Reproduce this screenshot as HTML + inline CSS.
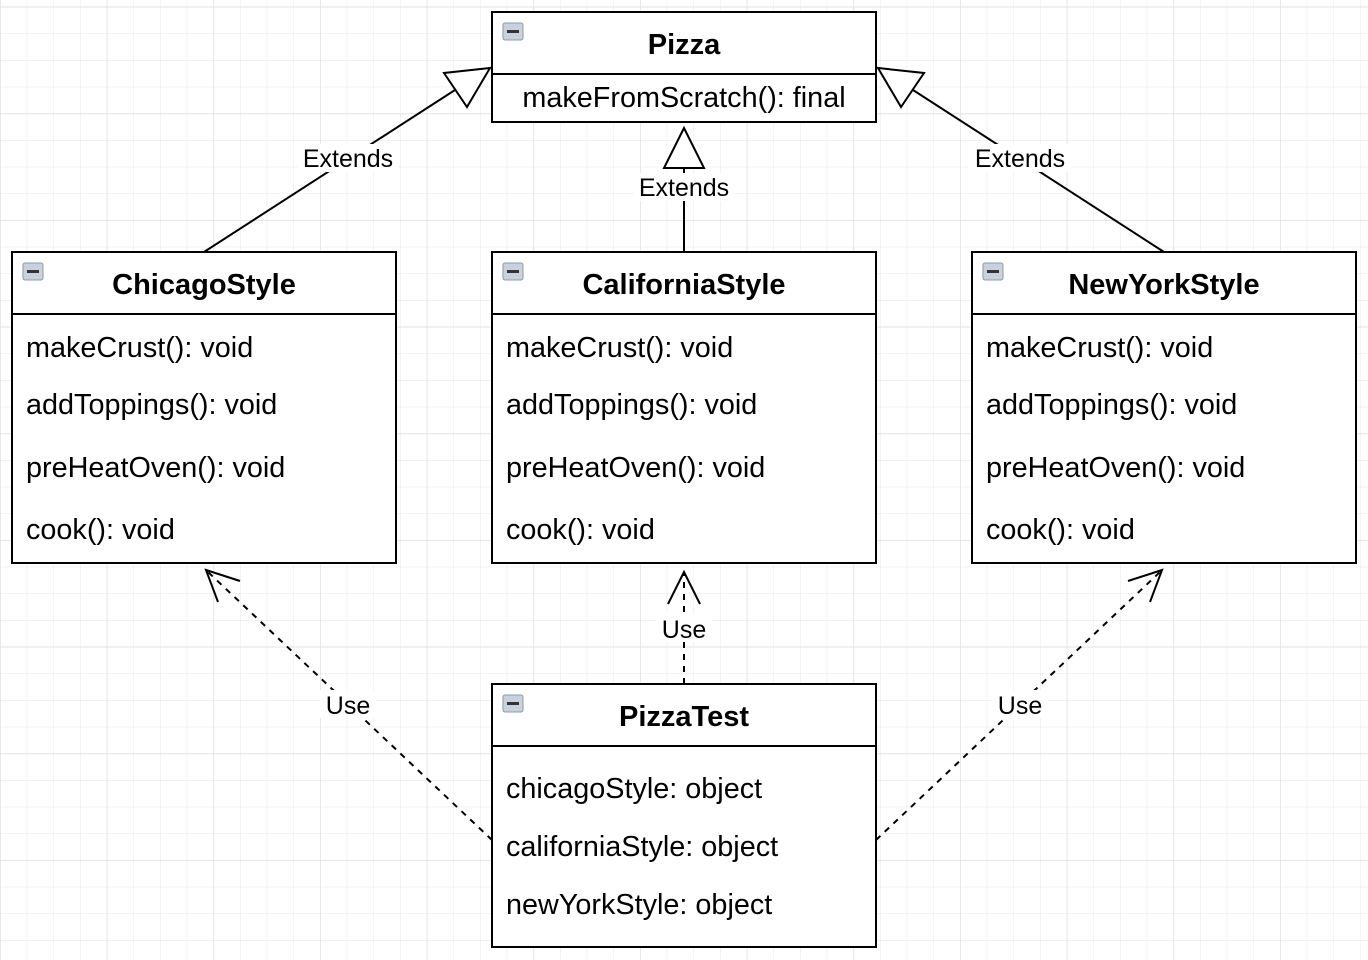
<!DOCTYPE html>
<html><head><meta charset="utf-8"><style>
html,body{margin:0;padding:0;background:#fff;}
svg{display:block;font-family:"Liberation Sans",Arial,sans-serif;}
</style></head><body>
<svg width="1368" height="960" viewBox="0 0 1368 960" xmlns="http://www.w3.org/2000/svg">
<defs>
<pattern id="g" x="0" y="6.67" width="26.667" height="26.667" patternUnits="userSpaceOnUse">
<path d="M0 0H26.667M0 0V26.667" stroke="#ebebeb" stroke-width="1.2" fill="none"/>
</pattern>
<pattern id="G" x="0" y="6.67" width="106.667" height="106.667" patternUnits="userSpaceOnUse">
<path d="M0 0H106.667M0 0V106.667" stroke="#e0e0e0" stroke-width="1.4" fill="none"/>
</pattern>
<g id="ic"><rect x="0" y="0" width="20" height="17" rx="2" fill="#c9d2dc" stroke="#8a99a8" stroke-width="1"/><rect x="4" y="7" width="12" height="3" fill="#333"/></g>
</defs>
<rect width="1368" height="960" fill="url(#g)"/>
<rect width="1368" height="960" fill="url(#G)"/>

<g stroke="#000" stroke-width="2" fill="none">
<line x1="204" y1="252" x2="455" y2="90"/>
<polygon points="490,68 444,73 467,107" fill="#fff"/>
<line x1="1164" y1="252" x2="913" y2="90"/>
<polygon points="878,68 924,73 901,107" fill="#fff"/>
<line x1="684" y1="252" x2="684" y2="168"/>
<polygon points="684,128 664,168 704,168" fill="#fff"/>
<g stroke-dasharray="6,6">
<line x1="492" y1="840" x2="208" y2="572"/>
<line x1="684" y1="684" x2="684" y2="574"/>
<line x1="876" y1="840" x2="1160" y2="572"/>
</g>
<polyline points="240,581 206,570 218,602"/>
<polyline points="668,604 684,572 700,604"/>
<polyline points="1128,581 1162,570 1150,602"/>
</g>

<g font-size="25" text-anchor="middle" fill="#000">
<rect x="298" y="144" width="100" height="28" fill="#fff"/><text x="348" y="167">Extends</text>
<rect x="968" y="144" width="104" height="28" fill="#fff"/><text x="1020" y="167">Extends</text>
<rect x="634" y="173" width="100" height="28" fill="#fff"/><text x="684" y="196">Extends</text>
<rect x="320" y="690" width="56" height="28" fill="#fff"/><text x="348" y="714">Use</text>
<rect x="656" y="614" width="56" height="28" fill="#fff"/><text x="684" y="638">Use</text>
<rect x="992" y="690" width="56" height="28" fill="#fff"/><text x="1020" y="714">Use</text>
</g>

<g stroke="#000" stroke-width="2" fill="#fff">
<rect x="492" y="12" width="384" height="110"/><line x1="492" y1="74" x2="876" y2="74"/>
<rect x="12" y="252" width="384" height="311"/><line x1="12" y1="314" x2="396" y2="314"/>
<rect x="492" y="252" width="384" height="311"/><line x1="492" y1="314" x2="876" y2="314"/>
<rect x="972" y="252" width="384" height="311"/><line x1="972" y1="314" x2="1356" y2="314"/>
<rect x="492" y="684" width="384" height="263"/><line x1="492" y1="746" x2="876" y2="746"/>
</g>
<use href="#ic" x="503" y="23"/>
<use href="#ic" x="23" y="263"/>
<use href="#ic" x="503" y="263"/>
<use href="#ic" x="983" y="263"/>
<use href="#ic" x="503" y="695"/>

<g font-size="29" font-weight="bold" text-anchor="middle">
<text x="684" y="54">Pizza</text>
<text x="204" y="294">ChicagoStyle</text>
<text x="684" y="294">CaliforniaStyle</text>
<text x="1164" y="294">NewYorkStyle</text>
<text x="684" y="726">PizzaTest</text>
</g>
<g font-size="28.8">
<text x="684" y="107" text-anchor="middle">makeFromScratch(): final</text>
<g id="m">
<text x="26" y="357">makeCrust(): void</text>
<text x="26" y="414">addToppings(): void</text>
<text x="26" y="477">preHeatOven(): void</text>
<text x="26" y="539">cook(): void</text>
</g>
<use href="#m" x="480"/>
<use href="#m" x="960"/>
<text x="506" y="798">chicagoStyle: object</text>
<text x="506" y="856">californiaStyle: object</text>
<text x="506" y="914">newYorkStyle: object</text>
</g>
</svg>
</body></html>
